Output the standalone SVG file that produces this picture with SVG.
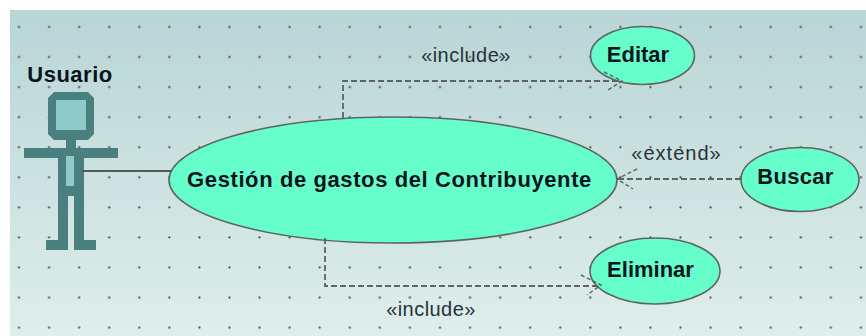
<svg xmlns="http://www.w3.org/2000/svg" width="866" height="336" viewBox="0 0 866 336">
  <style>
    .uc { fill: #66ffcc; stroke: #5f6463; stroke-width: 1.6; }
    .name { font-family: "Liberation Sans", Arial, sans-serif; font-weight: 700; font-size: 22px; fill: #0a1420; text-anchor: middle; }
    .stereo { font-family: "Liberation Sans", Arial, sans-serif; font-size: 20px; fill: #27323c; text-anchor: middle; }
    .dash { fill: none; stroke: #5f6362; stroke-width: 1.8; stroke-dasharray: 6 3; }
    .head { fill: none; stroke: #5f6362; stroke-width: 1.4; stroke-dasharray: 4 2.5; }
    .body { fill: #4a7f80; }
    .inner { fill: #8fcaca; }
  </style>
  <defs>
    <linearGradient id="bg" x1="0" y1="0" x2="0" y2="1">
      <stop offset="0" stop-color="#b9d5d5"/>
      <stop offset="1" stop-color="#deeeeb"/>
    </linearGradient>
    <pattern id="dots" x="4" y="12" width="30.07" height="30.07" patternUnits="userSpaceOnUse">
      <circle cx="15" cy="15" r="1.1" fill="#3d4a4a"/>
    </pattern>
  </defs>
  <rect width="866" height="336" fill="#ffffff"/>
  <rect x="10" y="10" width="856" height="326" fill="url(#bg)"/>
  <rect x="10" y="10" width="856" height="326" fill="url(#dots)"/>

  <g id="actor-usuario">
    <text class="name" x="70" y="82" style="letter-spacing:0.5px">Usuario</text>
    <path class="body" d="M54 92H88L94 98V134L88 140H76V148H118V158H84V240H96V250H74V196H68V250H46V240H58V158H24V148H66V140H54L48 134V98Z"/>
    <rect class="inner" x="56" y="100" width="30" height="30"/>
    <rect class="inner" x="66" y="156" width="8" height="30"/>
  </g>

  <g id="uc-gestion">
    <ellipse class="uc" cx="393" cy="180" rx="224" ry="63"/>
    <text class="name" x="389.500" y="187" style="letter-spacing:0.6px">Gestión de gastos del Contribuyente</text>
  </g>
  <g id="uc-editar">
    <ellipse class="uc" cx="642.500" cy="55.500" rx="52" ry="29"/>
    <text class="name" x="638" y="62">Editar</text>
  </g>
  <g id="uc-buscar">
    <ellipse class="uc" cx="800" cy="179.500" rx="59" ry="32"/>
    <text class="name" x="795.500" y="184" style="letter-spacing:0.3px">Buscar</text>
  </g>
  <g id="uc-eliminar">
    <ellipse class="uc" cx="655" cy="271" rx="65" ry="33"/>
    <text class="name" x="650.500" y="277">Eliminar</text>
  </g>

  <g id="connectors">
    <line x1="82" y1="171" x2="172" y2="171" stroke="#55595a" stroke-width="1.8"/>
    <path class="dash" d="M343 118V81H620"/>
    <path class="head" d="M604 72L622 81L608 90"/>
    <path class="dash" d="M741 179H618"/>
    <path class="head" d="M637 169L617 179L633 189"/>
    <path class="dash" d="M325 238V286H600"/>
    <path class="head" d="M581 275L601 285L587 295"/>
  </g>

  <text class="stereo" x="466" y="62" style="letter-spacing:0.45px">«include»</text>
  <text class="stereo" x="676.500" y="160" style="letter-spacing:1px">«extend»</text>
  <text class="stereo" x="431" y="316" style="letter-spacing:0.45px">«include»</text>
</svg>
